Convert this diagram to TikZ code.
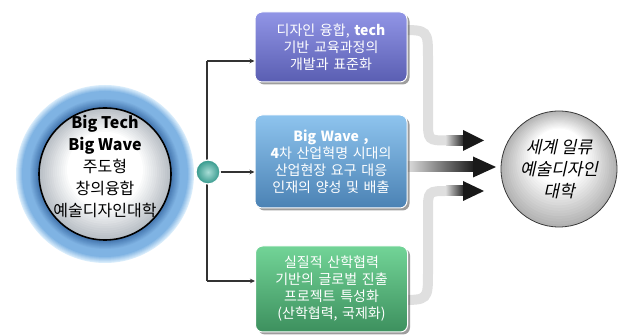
\documentclass[tikz,border=0pt]{standalone}
\usepackage{fontspec}
\setmainfont{Noto Sans CJK KR}
\newfontfamily\slantcjk[FakeSlant=0.22]{Noto Sans CJK KR}
\usepackage{xcolor}
\usetikzlibrary{arrows.meta,shadows,backgrounds}

\definecolor{ringdark}{HTML}{4A7CB4}
\definecolor{ringmid}{HTML}{7FB3E3}
\definecolor{ringpale}{HTML}{D8ECFB}
\definecolor{facegray}{HTML}{B8BEC5}
\definecolor{dotteal}{HTML}{3DB3A4}
\definecolor{purptop}{HTML}{9195E6}
\definecolor{purpbot}{HTML}{5A5EB2}
\definecolor{bluetop}{HTML}{8EC4EE}
\definecolor{bluebot}{HTML}{4B82B4}
\definecolor{greentop}{HTML}{72D497}
\definecolor{greenbot}{HTML}{3D905E}

\begin{document}
\begin{tikzpicture}[
  x=1pt, y=-1pt,
  wire/.style={draw=black!80, line width=1.1pt},
  card/.style={draw=white, line width=1pt, rounded corners=7pt, minimum width=152pt, text width=148pt,
    align=center, text=white, inner sep=0pt, font=\fontsize{14}{17}\selectfont,
    drop shadow={shadow xshift=2.5pt, shadow yshift=-2.5pt, opacity=0.55, fill=black!70}},
  hub/.style={circle, minimum size=132pt, inner sep=0pt, draw=black, line width=1.6pt,
    align=center, font=\fontsize{16}{22}\selectfont},
  dot/.style={circle, minimum size=24pt, inner sep=0pt, inner color=dotteal!45!white,
    outer color=dotteal!85!black, draw=white, line width=1.2pt},
  goal/.style={circle, minimum size=116pt, inner sep=0pt, draw=gray!45!black,
    line width=0.8pt, align=center, font=\slantcjk\fontsize{17}{22}\selectfont},
  band/.style={draw=gray!25, line width=10pt},
  >={Stealth[length=5pt,width=4.5pt]}
]
\useasboundingbox (0,0) rectangle (622,336);

% hub on the left: blue rings and a grey face
\coordinate (hubc) at (105,174);
\foreach \k in {0,...,6} {
  \pgfmathtruncatemacro\mix{100*\k/6}
  \fill[ringmid!\mix!ringpale] (hubc) circle ({89-\k});
}
\foreach \k in {0,...,6} {
  \fill[ringmid] (hubc) circle ({82-\k});
}
\foreach \k in {0,...,8} {
  \pgfmathtruncatemacro\mix{100*\k/8}
  \fill[ringdark!\mix!ringmid] (hubc) circle ({76-\k});
}
\foreach \k in {0,...,32} {
  \pgfmathtruncatemacro\mix{min(100,100*\k/14)}
  \fill[white!\mix!facegray] (hubc) ++(0,{-0.3*\k}) circle ({66-2*\k});
}
\node[hub] (hub) at (hubc) {};
\node[align=center, font=\fontsize{16}{22}\selectfont] (hubtext) at (105,166)
  {\textbf{Big Tech}\\\textbf{Big Wave}\\주도형\\창의융합\\예술디자인대학};

% three strategy boxes
\node[card, top color=purptop, bottom color=purpbot, minimum height=70pt] (b1) at (331,47)
  {디자인 융합, \textbf{tech}\\기반 교육과정의\\개발과 표준화};
\node[card, top color=bluetop, bottom color=bluebot, minimum height=93pt] (b2) at (331,161.5)
  {\textbf{Big Wave ,}\\\textbf{4}차 산업혁명 시대의\\산업현장 요구 대응\\인재의 양성 및 배출};
\node[card, top color=greentop, bottom color=greenbot, minimum height=86pt] (b3) at (331.5,289)
  {실질적 산학협력\\기반의 글로벌 진출\\프로젝트 특성화\\(산학협력, 국제화)};

% goal ball on the right
\coordinate (goalc) at (559,169);
\foreach \k in {0,...,28} {
  \pgfmathtruncatemacro\mix{min(100,100*\k/16)}
  \fill[white!\mix!gray!60] (goalc) ++(0,{-0.8*\k}) circle ({58-1.9*\k});
}
\node[goal] (goal) at (goalc) {세계 일류\\예술디자인\\대학};

% tree of connectors
\coordinate (t1) at (207,61);
\coordinate (t3) at (207,281);
\draw[wire] (t1) -- (t3);
\draw[wire,->] (t1) -- (b1.west |- t1);
\draw[wire,->] (t3) -- (b3.west |- t3);
\node[dot] (dot) at (208,172) {};
\draw[wire,->] (dot.east) -- (b2.west |- dot);

% grey bands into the goal
\coordinate (u1) at (400,30);
\coordinate (u3) at (400,300);
\coordinate (h1) at (484,140.5);
\coordinate (h2) at (496,167);
\coordinate (h3) at (484,191);
\begin{scope}[on background layer]
\draw[band] (u1) .. controls (428,30) .. (428,58) -- (428,120) .. controls (428,140.5) .. (448,140.5);
\shade[left color=gray!30, right color=black!90] (446,135.5) rectangle (465,145.5);
\fill[black!90] (463,130) -- (h1) -- (463,151) -- cycle;
\shade[left color=gray!10, right color=black!90] (400,162) rectangle (475,172);
\fill[black!90] (473,156.5) -- (h2) -- (473,177.5) -- cycle;
\draw[band] (u3) .. controls (428,300) .. (428,272) -- (428,211) .. controls (428,191) .. (448,191);
\shade[left color=gray!30, right color=black!90] (446,186) rectangle (465,196);
\fill[black!90] (463,181) -- (h3) -- (463,201) -- cycle;
\end{scope}
\end{tikzpicture}
\end{document}
